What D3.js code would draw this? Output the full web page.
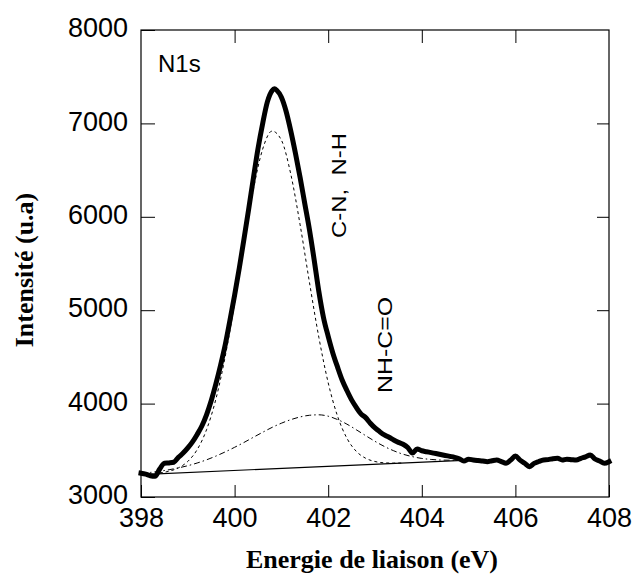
<!DOCTYPE html>
<html>
<head>
<meta charset="utf-8">
<script src="https://cdn.jsdelivr.net/npm/d3@7/dist/d3.min.js"></script>
<style>
  body { margin: 0; background: #fff; }
  svg { display: block; }
</style>
</head>
<body>
<svg id="chart" width="634" height="577"></svg>
<script>
// N1s XPS spectrum: measured signal, Shirley-type linear background and two fitted components.

const xTicks = [398, 400, 402, 404, 406, 408];
const yTicks = [3000, 4000, 5000, 6000, 7000, 8000];

// measured spectrum [binding energy (eV), intensity (a.u.)]
const spectrum = [
  [398.0, 3255], [398.1, 3245], [398.2, 3228], [398.3, 3222], [398.4, 3300],
  [398.5, 3362], [398.6, 3365], [398.7, 3372], [398.8, 3425], [398.9, 3470],
  [399.0, 3525], [399.1, 3590], [399.2, 3670], [399.3, 3760], [399.4, 3880],
  [399.5, 4030], [399.6, 4210], [399.7, 4410], [399.8, 4630], [399.9, 4890],
  [400.0, 5160], [400.1, 5450], [400.2, 5760], [400.3, 6080], [400.4, 6410],
  [400.5, 6730], [400.6, 7000], [400.7, 7230], [400.8, 7350], [400.85, 7370],
  [400.9, 7355], [401.0, 7280], [401.1, 7130], [401.2, 6920], [401.3, 6680],
  [401.4, 6420], [401.5, 6140], [401.6, 5860], [401.7, 5540], [401.8, 5200],
  [401.9, 4920], [402.0, 4720], [402.1, 4540], [402.2, 4390], [402.3, 4250],
  [402.4, 4140], [402.5, 4040], [402.6, 3960], [402.7, 3890], [402.8, 3850],
  [402.9, 3790], [403.0, 3740], [403.1, 3700], [403.2, 3665], [403.3, 3640],
  [403.4, 3610], [403.5, 3585], [403.6, 3565], [403.7, 3530], [403.8, 3470],
  [403.9, 3515], [404.0, 3495], [404.1, 3485], [404.2, 3475], [404.3, 3465],
  [404.4, 3455], [404.5, 3445], [404.6, 3435], [404.7, 3425], [404.8, 3410],
  [404.9, 3385], [405.0, 3405], [405.1, 3396], [405.2, 3390], [405.3, 3385],
  [405.4, 3378], [405.5, 3388], [405.6, 3396], [405.7, 3380], [405.8, 3362],
  [405.9, 3395], [406.0, 3439], [406.1, 3395], [406.2, 3361], [406.3, 3325],
  [406.4, 3360], [406.5, 3380], [406.6, 3396], [406.7, 3400], [406.8, 3410],
  [406.9, 3414], [407.0, 3396], [407.1, 3405], [407.2, 3400], [407.3, 3396],
  [407.4, 3414], [407.5, 3430], [407.6, 3450], [407.7, 3407], [407.8, 3385],
  [407.9, 3361], [408.0, 3378]
];

// linear background under the fitted peaks
const background = [[398.0, 3240], [405.0, 3395]];

// component C-N, N-H (short dashes)
const peakCN = [
  [398.4, 3258], [398.6, 3276], [398.8, 3312], [399.0, 3381], [399.2, 3507],
  [399.4, 3720], [399.6, 4048], [399.8, 4506], [400.0, 5076], [400.2, 5703],
  [400.4, 6290], [400.6, 6725], [400.8, 6918], [401.0, 6821], [401.2, 6458],
  [401.4, 5914], [401.6, 5296], [401.8, 4710], [402.0, 4223], [402.2, 3865],
  [402.4, 3629], [402.6, 3489], [402.8, 3415], [403.0, 3380], [403.2, 3366],
  [403.4, 3363], [403.6, 3364]
];

// component NH-C=O (dash-dot)
const peakNHCO = [
  [398.0, 3253], [398.2, 3263], [398.4, 3276], [398.6, 3292], [398.8, 3312],
  [399.0, 3335], [399.2, 3364], [399.4, 3398], [399.6, 3438], [399.8, 3483],
  [400.0, 3532], [400.2, 3584], [400.4, 3639], [400.6, 3693], [400.8, 3745],
  [401.0, 3790], [401.2, 3828], [401.4, 3857], [401.6, 3875], [401.8, 3880],
  [402.0, 3865], [402.2, 3829], [402.4, 3780], [402.6, 3720], [402.8, 3657],
  [403.0, 3596], [403.2, 3541], [403.4, 3495], [403.6, 3458], [403.8, 3432],
  [404.0, 3413], [404.2, 3402], [404.4, 3396], [404.6, 3394], [404.8, 3395]
];

const plot = { left: 141, right: 609, top: 30, bottom: 497 };
const labelFont = "'Liberation Sans', Arial, Helvetica, sans-serif";
const titleFont = "'Liberation Serif', 'Times New Roman', serif";

const svg = d3.select("#chart");

const x = d3.scaleLinear().domain([398, 408]).range([plot.left, plot.right]);
const y = d3.scaleLinear().domain([3000, 8000]).range([plot.bottom, plot.top]);

const line = d3.line()
  .x(d => x(d[0]))
  .y(d => y(d[1]))
  .curve(d3.curveMonotoneX);

// background line
svg.append("path")
  .datum(background)
  .attr("d", d3.line().x(d => x(d[0])).y(d => y(d[1])))
  .attr("fill", "none")
  .attr("stroke", "#000")
  .attr("stroke-width", 1.1);

// fitted components
svg.append("path")
  .datum(peakCN)
  .attr("d", line)
  .attr("fill", "none")
  .attr("stroke", "#000")
  .attr("stroke-width", 1)
  .attr("stroke-dasharray", "3,3");

svg.append("path")
  .datum(peakNHCO)
  .attr("d", line)
  .attr("fill", "none")
  .attr("stroke", "#000")
  .attr("stroke-width", 1)
  .attr("stroke-dasharray", "6,3,1.5,3");

// measured spectrum
svg.append("path")
  .datum(spectrum)
  .attr("d", line)
  .attr("fill", "none")
  .attr("stroke", "#000")
  .attr("stroke-width", 5)
  .attr("stroke-linejoin", "round")
  .attr("stroke-linecap", "square");

// axes: ticks pointing inwards on all four sides
const axisBottom = svg.append("g")
  .attr("transform", `translate(0,${plot.bottom})`)
  .call(d3.axisBottom(x).tickValues(xTicks).tickSize(-12).tickSizeOuter(0).tickPadding(11)
    .tickFormat(d3.format("d")));

const axisLeft = svg.append("g")
  .attr("transform", `translate(${plot.left},0)`)
  .call(d3.axisLeft(y).tickValues(yTicks).tickSize(-14).tickSizeOuter(0).tickPadding(13)
    .tickFormat(d3.format("d")));

svg.append("g")
  .attr("transform", `translate(0,${plot.top})`)
  .call(d3.axisTop(x).tickValues(xTicks.slice(1, -1)).tickSize(-13).tickSizeOuter(0).tickFormat(""));

svg.append("g")
  .attr("transform", `translate(${plot.right},0)`)
  .call(d3.axisRight(y).tickValues(yTicks.slice(1, -1)).tickSize(-12).tickSizeOuter(0).tickFormat(""));

svg.selectAll(".domain").remove();
svg.selectAll(".tick line").attr("stroke", "#000").attr("stroke-width", 1);

[axisBottom, axisLeft].forEach(g => g.selectAll("text")
  .attr("fill", "#000")
  .style("font-family", labelFont)
  .style("font-size", "27px"));
axisLeft.selectAll("text").attr("dy", "0.25em");

// frame
svg.append("rect")
  .attr("x", plot.left)
  .attr("y", plot.top)
  .attr("width", plot.right - plot.left)
  .attr("height", plot.bottom - plot.top)
  .attr("fill", "none")
  .attr("stroke", "#000")
  .attr("stroke-width", 1.2);

// annotations
svg.append("text")
  .attr("x", 158).attr("y", 72)
  .style("font-family", labelFont).style("font-size", "24px")
  .text("N1s");

svg.append("text")
  .attr("transform", "translate(346,238) rotate(-90)")
  .attr("textLength", 105).attr("lengthAdjust", "spacingAndGlyphs")
  .style("font-family", labelFont).style("font-size", "20px")
  .style("white-space", "pre")
  .text("C-N,  N-H");

svg.append("text")
  .attr("transform", "translate(392,393) rotate(-90)")
  .attr("textLength", 96).attr("lengthAdjust", "spacingAndGlyphs")
  .style("font-family", labelFont).style("font-size", "21px")
  .text("NH-C=O");

// axis titles
svg.append("text")
  .attr("x", 372).attr("y", 568)
  .attr("text-anchor", "middle")
  .style("font-family", titleFont).style("font-size", "26px").style("font-weight", "bold")
  .text("Energie de liaison (eV)");

svg.append("text")
  .attr("transform", "translate(33,270) rotate(-90)")
  .attr("text-anchor", "middle")
  .style("font-family", titleFont).style("font-size", "26px").style("font-weight", "bold")
  .text("Intensité (u.a)");
</script>
</body>
</html>
